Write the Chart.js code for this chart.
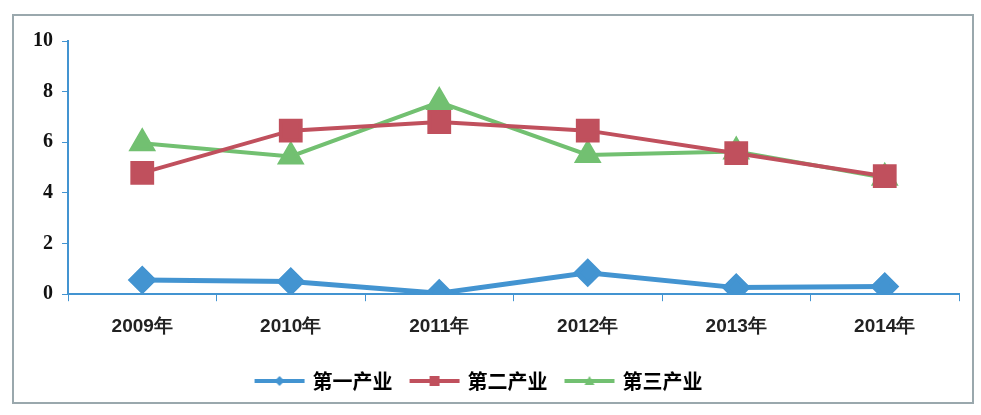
<!DOCTYPE html>
<html><head><meta charset="utf-8">
<script src="https://cdn.jsdelivr.net/npm/chart.js@4/dist/chart.umd.min.js"></script>
<style>
html,body{margin:0;padding:0;background:#fff;}
#wrap{position:absolute;left:0;top:0;width:981px;height:415px;}
#frame{position:absolute;left:12px;top:14px;width:962px;height:390px;border:2px solid #9aa8ad;box-sizing:border-box;}
canvas{position:absolute;left:0;top:0;}
</style></head>
<body><div id="wrap"><div id="frame"></div><canvas id="c" width="981" height="415"></canvas></div>
<script>
const categories = ['2009年','2010年','2011年','2012年','2013年','2014年'];
const primary = [0.56, 0.50, 0.04, 0.85, 0.26, 0.30];
const secondary = [4.79, 6.46, 6.80, 6.46, 5.57, 4.66];
const tertiary = [5.96, 5.44, 7.59, 5.50, 5.64, 4.60];
const seriesNames = ['第一产业','第二产业','第三产业'];
const yTicks = [0, 2, 4, 6, 8, 10];

const cBlue = '#4394d1', cRed = '#c0505d', cGreen = '#72c071';

function legendIcon(color, style){
  const cv = document.createElement('canvas');
  cv.width = 52; cv.height = 14;
  const g = cv.getContext('2d');
  g.strokeStyle = color; g.lineWidth = 4;
  g.beginPath(); g.moveTo(1,7); g.lineTo(51,7); g.stroke();
  g.fillStyle = color;
  if(style==='diamond'){ g.beginPath(); g.moveTo(26,2); g.lineTo(31,7); g.lineTo(26,12); g.lineTo(21,7); g.closePath(); g.fill(); }
  else if(style==='rect'){ g.fillRect(21,2,10,10); }
  else { g.beginPath(); g.moveTo(26,2); g.lineTo(31,11); g.lineTo(21,11); g.closePath(); g.fill(); }
  return cv;
}
const icons = [legendIcon(cBlue,'diamond'), legendIcon(cRed,'rect'), legendIcon(cGreen,'tri')];

new Chart(document.getElementById('c'), {
  type: 'line',
  data: {
    labels: categories,
    datasets: [
      {label: seriesNames[0], data: primary, borderColor: cBlue, backgroundColor: cBlue, borderWidth: 5, pointStyle: 'rectRot', pointRadius: 11, pointHoverRadius: 11, tension: 0},
      {label: seriesNames[1], data: secondary, borderColor: cRed, backgroundColor: cRed, borderWidth: 4, pointStyle: 'rect', pointRadius: 14, pointHoverRadius: 14, tension: 0},
      {label: seriesNames[2], data: tertiary, borderColor: cGreen, backgroundColor: cGreen, borderWidth: 4, pointStyle: 'triangle', pointRadius: 12, pointHoverRadius: 12, tension: 0}
    ]
  },
  options: {
    responsive: false, animation: false,
    layout: {padding: {left: 0, right: 22, top: 41, bottom: 14}},
    plugins: {
      tooltip: {enabled: false},
      legend: {
        position: 'bottom',
        labels: {
          usePointStyle: true,
          pointStyleWidth: 46,
          boxHeight: 14,
          color: '#222',
          font: {family: '"Noto Sans CJK SC"', size: 20, weight: 'bold'},
          padding: 19,
          generateLabels: (chart) => chart.data.datasets.map((d,i) => ({
            text: d.label, fillStyle: d.borderColor, strokeStyle: d.borderColor,
            pointStyle: icons[i], datasetIndex: i, hidden: false, lineWidth: 0
          }))
        }
      }
    },
    scales: {
      x: {
        offset: true,
        grid: {display: true, drawOnChartArea: false, drawTicks: true, tickLength: 7, color: cBlue, offset: true},
        border: {display: true, color: cBlue, width: 2},
        ticks: {color: '#222', font: {family: '"Liberation Sans"', size: 19, weight: 'bold'}, padding: 14}
      },
      y: {
        min: 0, max: 10,
        afterFit: (s) => { s.width = 68; },
        afterBuildTicks: (s) => { s.ticks = yTicks.map(v => ({value: v})); },
        grid: {display: true, drawOnChartArea: false, drawTicks: true, tickLength: 6, color: cBlue},
        border: {display: true, color: cBlue, width: 2},
        ticks: {color: '#111', font: {family: '"Liberation Serif"', size: 20, weight: 'bold'}, padding: 9}
      }
    }
  }
});
</script></body></html>
